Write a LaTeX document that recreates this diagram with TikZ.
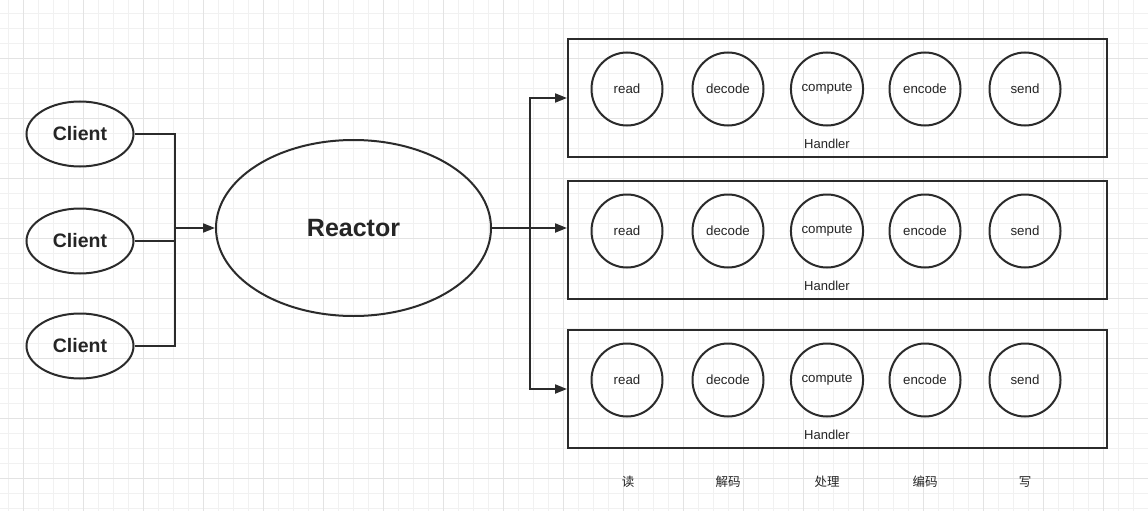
\documentclass[tikz,border=0pt]{standalone}
\usepackage{fontspec}
\setmainfont{Liberation Sans}
\newfontfamily\cjk{Noto Sans CJK SC}
\usetikzlibrary{arrows.meta,shapes.geometric}
\definecolor{ink}{HTML}{2B2B2B}
\definecolor{txt}{HTML}{252525}
\definecolor{gridminor}{HTML}{F1F1F1}
\definecolor{gridmajor}{HTML}{E3E3E3}
\tikzset{
  client/.style={ellipse,draw=ink,line width=2pt,minimum width=107pt,minimum height=65pt,inner sep=0pt,text=txt,font=\bfseries\fontsize{19.5}{22}\selectfont},
  reactor/.style={ellipse,draw=ink,line width=2pt,minimum width=275pt,minimum height=176pt,inner sep=0pt,text=txt,font=\bfseries\fontsize{25}{28}\selectfont},
  hbox/.style={rectangle,draw=ink,line width=2pt,minimum width=539pt,minimum height=118pt,inner sep=0pt},
  stage/.style={ellipse,draw=ink,line width=2pt,minimum width=71pt,minimum height=73pt,inner sep=0pt,text=txt,font=\fontsize{13.3}{15}\selectfont},
  hlabel/.style={text=txt,font=\fontsize{13}{15}\selectfont,inner sep=0pt},
  zh/.style={text=txt,font=\cjk\fontsize{12.5}{15}\selectfont,inner sep=0pt},
  wire/.style={draw=ink,line width=2pt},
  arrow/.style={wire,-{Triangle[length=12pt,width=9pt]}}
}
\begin{document}
\begin{tikzpicture}[x=1pt,y=-1pt]
\fill[white] (0,0) rectangle (1148,511);
\useasboundingbox (0,0) rectangle (1148,511);
% grid
\foreach \i in {0,...,76} \draw[gridminor,line width=1pt] ({8.3+15*\i},0) -- ({8.3+15*\i},511);
\foreach \i in {0,...,33} \draw[gridminor,line width=1pt] (0,{13.3+15*\i}) -- (1148,{13.3+15*\i});
\foreach \i in {0,...,18} \draw[gridmajor,line width=1pt] ({23.3+60*\i},0) -- ({23.3+60*\i},511);
\foreach \i in {0,...,7} \draw[gridmajor,line width=1pt] (0,{58.3+60*\i}) -- (1148,{58.3+60*\i});

% clients
\node[client] (c1) at (80,134) {Client};
\node[client] (c2) at (80,241) {Client};
\node[client] (c3) at (80,346) {Client};
\node[reactor] (r) at (353.5,228) {Reactor};
\coordinate (j) at (175,228);
\draw[wire] (c1.east) -| (j);
\draw[wire] (c3.east) -| (j);
\draw[wire] (c2.east) -- (c2.east -| j);
\draw[arrow] (j) -- (r.west);

% handler boxes
\foreach \n/\y in {1/98,2/240,3/389}{
  \node[hbox] (h\n) at (837.5,\y) {};
  \node[stage] (h\n a) at (627,\y-9) {read};
  \node[stage] (h\n b) at (728,\y-9) {decode};
  \node[stage] (h\n c) at (827,\y-9) {compute};
  \node[stage] (h\n d) at (925,\y-9) {encode};
  \node[stage] (h\n e) at (1025,\y-9) {send};
  \node[hlabel] (hl\n) at (827,\y+46) {Handler};
}

\coordinate (k) at (529.5,228);
\draw[arrow] (r.east) -- (r.east -| h2.west);
\draw[arrow] (k) |- (h1.west);
\draw[arrow] (k) |- (h3.west);

% chinese labels
\node[zh] (z1) at (628,482) {读};
\node[zh] (z2) at (728,482) {解码};
\node[zh] (z3) at (827,482) {处理};
\node[zh] (z4) at (925,482) {编码};
\node[zh] (z5) at (1025,482) {写};
\end{tikzpicture}
\end{document}
